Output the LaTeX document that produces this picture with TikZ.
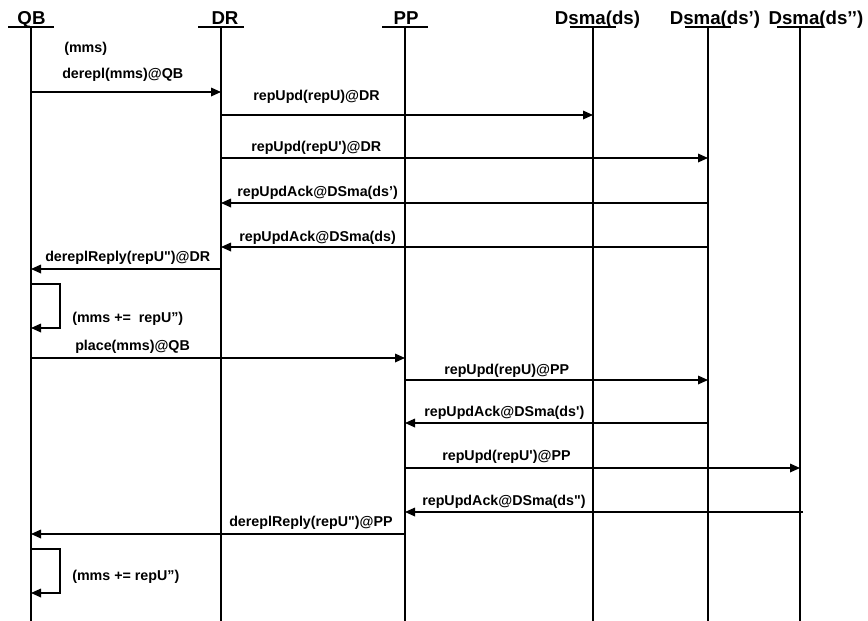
\documentclass[tikz,border=0pt]{standalone}
\usepackage{fontspec}
\setmainfont{Liberation Sans}
\usetikzlibrary{arrows.meta}
\tikzset{
  lifeline/.style={line width=1.1pt},
  msg/.style={line width=0.9pt,-{Triangle[length=7.5pt,width=6.5pt]}},
  head/.style={anchor=base,inner sep=0pt,font=\fontsize{14}{16}\selectfont\bfseries},
  lbl/.style={anchor=west,inner sep=0pt,text height=0.75em,text depth=0.2em,font=\fontsize{10.7}{12}\selectfont\bfseries}
}

\begin{document}
\begin{tikzpicture}[x=0.75pt,y=-0.75pt]
			%%%%% START %%%%%
			\useasboundingbox (0,0) rectangle (868,621);
			
			% lifelines
			\foreach \n/\x in {qb/31,dr/221,pp/405,dsa/593,dsb/708,dsc/800}{
				\coordinate (\n) at (\x,27);
				\draw[lifeline] (\x-23,27) -- (\x+23,27);
				\draw[lifeline] (\n) -- (\x,621);
			}
			\node[head] (qbname) at (31.5,25) {QB};
			\node[head] (drname) at (225,25) {DR};
			\node[head] (ppname) at (406,25) {PP};
			\node[head] (dsaname) at (597.5,25) {Dsma(ds)};
			\node[head] (dsbname) at (715,25) {Dsma(ds’)};
			\node[head] (dscname) at (816,25) {Dsma(ds’’)};
			
			% derepl at DR
			\node[lbl] (m0) at (64,49) {(mms)};
			\draw[msg] (qb |- 0,92) -- (dr |- 0,92);
			\node[lbl] (m1) at (62,75) {derepl(mms)@QB};
			\draw[msg] (dr |- 0,115) -- (dsa |- 0,115);
			\node[lbl] (m2) at (253,97) {repUpd(repU)@DR};
			\draw[msg] (dr |- 0,158) -- (dsb |- 0,158);
			\node[lbl] (m3) at (251,148) {repUpd(repU\textquotesingle)@DR};
			\draw[msg] (dsb |- 0,203) -- (dr |- 0,203);
			\node[lbl] (m4) at (237,193) {repUpdAck@DSma(ds’)};
			\draw[msg] (dsb |- 0,247) -- (dr |- 0,247);
			\node[lbl] (m5) at (239,238) {repUpdAck@DSma(ds)};
			\draw[msg] (dr |- 0,269) -- (qb |- 0,269);
			\node[lbl] (m6) at (45,258) {dereplReply(repU\textquotedbl)@DR};
			\draw[msg] (qb |- 0,284) -- (60,284) -- (60,328) -- (qb |- 0,328);
			\node[lbl] (m7) at (72,319) {(mms +=~ repU”)};
			
			% place at PP
			\draw[msg] (qb |- 0,358) -- (pp |- 0,358);
			\node[lbl] (m8) at (75,347) {place(mms)@QB};
			\draw[msg] (pp |- 0,380) -- (dsb |- 0,380);
			\node[lbl] (m9) at (444,371) {repUpd(repU)@PP};
			\draw[msg] (dsb |- 0,423) -- (pp |- 0,423);
			\node[lbl] (m10) at (424,413) {repUpdAck@DSma(ds\textquotesingle)};
			\draw[msg] (pp |- 0,468) -- (dsc |- 0,468);
			\node[lbl] (m11) at (442,457) {repUpd(repU\textquotesingle)@PP};
			\draw[msg] (803,512) -- (pp |- 0,512);
			\node[lbl] (m12) at (422,502) {repUpdAck@DSma(ds\textquotedbl)};
			\draw[msg] (pp |- 0,534) -- (qb |- 0,534);
			\node[lbl] (m13) at (229,523) {dereplReply(repU\textquotedbl)@PP};
			\draw[msg] (qb |- 0,549) -- (60,549) -- (60,593) -- (qb |- 0,593);
			\node[lbl] (m14) at (72,577) {(mms += repU”)};
			
			%%%%% END %%%%%
\end{tikzpicture}
\end{document}
